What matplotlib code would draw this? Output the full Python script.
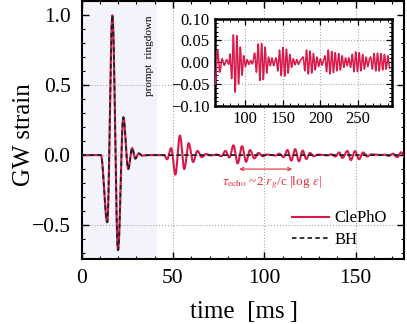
import numpy as np
import matplotlib
matplotlib.use("Agg")
import matplotlib.pyplot as plt
from matplotlib.ticker import MultipleLocator, FuncFormatter

plt.rcParams['font.family'] = ['Liberation Serif', 'DejaVu Serif']
plt.rcParams['mathtext.fontset'] = 'stix'

# prompt signal (shared by BH and ClePhO): extrema
prompt_t = [0, 10.5, 14.0, 16.8, 19.9, 22.8, 25.5, 27.6, 29.4, 31.2, 33.2, 36.0]
prompt_h = [0, 0.0, -0.48, 1.0, -0.68, 0.27, -0.10, 0.05, -0.025, 0.012, -0.004, 0.0]

# echoes of ClePhO in the main panel (extrema times / values)
echo1_t = [45.0, 46.8, 49.0, 51.3, 53.8, 56.2, 58.6, 61.0, 63.4, 65.8, 68.2, 70.6]
echo1_h = [0.0, -0.03, 0.05, -0.14, 0.14, -0.10, 0.085, -0.05, 0.03, -0.015, 0.008, -0.003]
echo2_t = [74.0, 76.5, 78.7, 80.9, 83.1, 85.4, 87.8, 90.0, 92.2, 94.5, 96.9, 99.2, 101.5]
echo2_h = [0.004, -0.008, 0.03, -0.017, 0.07, -0.06, 0.064, -0.048, 0.036, -0.024, 0.016, -0.008, 0.004]
echo3_t = [106.0, 108.3, 110.5, 112.7, 114.8, 116.9, 119.0, 121.0, 123.0, 125.0, 127.2, 129.4]
echo3_h = [-0.004, 0.01, -0.015, 0.036, -0.04, 0.043, -0.045, 0.032, -0.028, 0.015, -0.008, 0.004]
echo4_t = [134.5, 136.7, 138.9, 141.0, 142.8, 145.5, 147.4, 149.7, 151.9, 154.1, 156.3, 158.5]
echo4_h = [-0.003, 0.006, -0.01, 0.019, -0.021, 0.03, -0.036, 0.028, -0.03, 0.019, -0.01, 0.005]
echo5_t = [165.9, 168.3, 170.5, 172.7, 175.0, 177.2]
echo5_h = [0.003, -0.006, 0.01, -0.015, 0.02, -0.02]

# inset: packets as (first extremum, half period, extrema values)
inset_t0 = [60.0, 79.5, 112.5, 141.0, 177.0, 206.0, 238.0, 267.0]
inset_dt = [3.0, 2.3, 2.3, 2.3, 2.3, 2.3, 2.3, 2.3]
inset_amp = [
    [-0.05, 0.028, -0.023, 0.008, -0.007, 0.006, -0.005],
    [0.019, -0.038, 0.063, -0.069, 0.061, -0.05, 0.035, -0.03, 0.015, -0.01, 0.006, -0.005, 0.004, -0.004],
    [0.021, -0.023, 0.042, -0.042, 0.043, -0.04, 0.035, -0.025, 0.012, -0.008, 0.01, -0.008, 0.006],
    [0.01, -0.02, 0.028, -0.031, 0.034, -0.032, 0.03, -0.025, 0.018, -0.012, 0.008, -0.006, 0.006, -0.005, 0.004],
    [0.012, -0.02, 0.028, -0.027, 0.026, -0.025, 0.02, -0.018, 0.012, -0.01, 0.008, -0.007, 0.006],
    [0.015, -0.022, 0.028, -0.027, 0.025, -0.024, 0.022, -0.02, 0.02, -0.018, 0.015, -0.012, 0.01, -0.008],
    [0.01, -0.012, 0.018, -0.022, 0.024, -0.022, 0.022, -0.02, 0.018, -0.016, 0.012, -0.01, 0.008],
    [0.012, -0.016, 0.02, -0.02, 0.021, -0.02, 0.02, -0.018, 0.018, -0.016, 0.015, -0.014],
]

red = '#d81b4a'


def smooth(tk, hk, n=24):
    # join the read extrema with half-cosine arcs
    ts, hs = [], []
    for i in range(len(tk) - 1):
        s = np.linspace(0, 1, n, endpoint=False)
        w = (1 - np.cos(np.pi * s)) / 2
        ts.append(tk[i] + (tk[i+1] - tk[i]) * s)
        hs.append(hk[i] + (hk[i+1] - hk[i]) * w)
    ts.append([tk[-1]]); hs.append([hk[-1]])
    return np.concatenate(ts), np.concatenate(hs)


def fmt(d):
    return FuncFormatter(lambda v, p: ('%.*f' % (d, v)).replace('-', '\u2212'))


# ClePhO knots
cl_t = list(prompt_t)
cl_h = list(prompt_h)
for et, eh in [(echo1_t, echo1_h), (echo2_t, echo2_h), (echo3_t, echo3_h),
               (echo4_t, echo4_h), (echo5_t, echo5_h)]:
    if et[0] - cl_t[-1] > 2.5:
        cl_t.append(et[0] - 2.2); cl_h.append(0.0)
    cl_t += et; cl_h += eh

bh_t = list(prompt_t) + [180.0]
bh_h = list(prompt_h) + [0.0]

in_t, in_h = [], []
for t0, dt, amps in zip(inset_t0, inset_dt, inset_amp):
    for k, a in enumerate(amps):
        in_t.append(t0 + dt * k); in_h.append(a)

fig = plt.figure(figsize=(4.07, 3.24), dpi=100)
ax = fig.add_axes([0.2007, 0.1997, 0.7919, 0.7983])

ax.axvspan(0, 41.5, color='#f3f3fc', lw=0, zorder=0)
for gx in [50, 100, 150]:
    ax.axvline(gx, color='#aaaaaa', ls=':', lw=0.8, zorder=1)
for gy in [-0.5, 0.0, 0.5]:
    ax.axhline(gy, color='#aaaaaa', ls=':', lw=0.8, zorder=1)

x1, y1 = smooth(cl_t, cl_h)
x2, y2 = smooth(bh_t, bh_h)
ax.plot(x1, y1, color=red, lw=1.5, label='ClePhO', zorder=3)
ax.plot(x2, y2, color='#222222', lw=1.3, ls=(0, (2.5, 1.8)), label='BH', zorder=4)

ax.set_xlim(0, 176.5)
ax.set_ylim(-0.745, 1.104)
ax.xaxis.set_major_locator(MultipleLocator(50))
ax.xaxis.set_minor_locator(MultipleLocator(10))
ax.yaxis.set_major_locator(MultipleLocator(0.5))
ax.yaxis.set_minor_locator(MultipleLocator(0.1))
ax.yaxis.set_major_formatter(fmt(1))
ax.tick_params(which='both', direction='in', top=True, right=True, labelsize=15.5)
ax.tick_params(which='major', length=5, width=1.0)
ax.tick_params(which='minor', length=2.5, width=0.8)
ax.tick_params(axis='y', pad=8)
ax.tick_params(axis='x', pad=7)
for sp in ax.spines.values():
    sp.set_linewidth(1.5)

ax.text(37, 0.71, 'prompt  ringdown', rotation=90, fontsize=8,
        ha='center', va='center')
ax.annotate('', xy=(86.3, -0.10), xytext=(115.3, -0.10),
            arrowprops=dict(arrowstyle='<->', color='#ee2b3b', lw=0.8,
                            shrinkA=0, shrinkB=0, mutation_scale=6))
ax.text(104, -0.20, r'$\tau_{\rm echo}$ ~2 $r_g$/c |log $\epsilon$|',
        color='#ee2b3b', fontsize=9.5, ha='center', va='center')

ax.legend(loc='lower right', bbox_to_anchor=(0.957, 0.03), frameon=False,
          fontsize=12, handlelength=2.2, borderaxespad=0, borderpad=0.2,
          labelspacing=0.35, handletextpad=0.35)

fig.text(24 / 407, 0.583, 'GW strain', rotation=90, fontsize=18,
         ha='center', va='center')
fig.text(244 / 407, 0.02, 'time  [ms\u2009]', fontsize=18,
         ha='center', va='baseline')

# inset
axi = fig.add_axes([0.529, 0.674, 0.435, 0.268])
for gx in [100, 150, 200, 250]:
    axi.axvline(gx, color='#aaaaaa', ls=':', lw=0.8, zorder=1)
for gy in [-0.05, 0.0, 0.05]:
    axi.axhline(gy, color='#aaaaaa', ls=':', lw=0.8, zorder=1)
xi, yi = smooth(in_t, in_h, n=10)
axi.plot(xi, yi, color=red, lw=1.1, zorder=3)
axi.set_xlim(60, 296)
axi.set_ylim(-0.1, 0.1)
axi.xaxis.set_major_locator(MultipleLocator(50))
axi.xaxis.set_minor_locator(MultipleLocator(10))
axi.yaxis.set_major_locator(MultipleLocator(0.05))
axi.yaxis.set_minor_locator(MultipleLocator(0.01))
axi.yaxis.set_major_formatter(fmt(2))
axi.tick_params(which='both', direction='in', top=True, right=True, labelsize=12)
axi.tick_params(which='major', length=4, width=0.9)
axi.tick_params(which='minor', length=2, width=0.7)
axi.tick_params(axis='both', pad=4)
for sp in axi.spines.values():
    sp.set_linewidth(1.8)

fig.savefig('out.png', dpi=100)
